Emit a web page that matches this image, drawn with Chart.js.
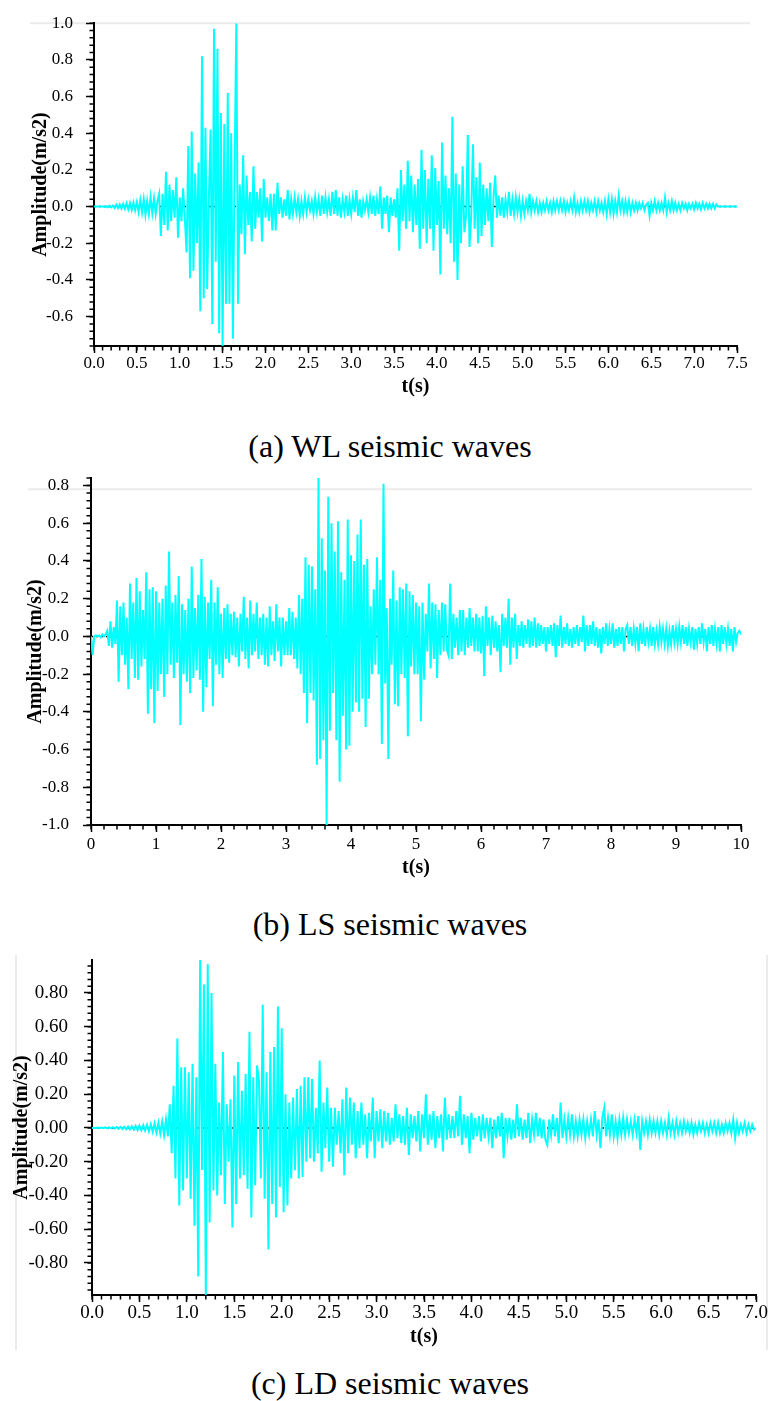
<!DOCTYPE html>
<html>
<head>
<meta charset="utf-8">
<script src="https://cdn.jsdelivr.net/npm/chart.js@4.4.0/dist/chart.umd.min.js"></script>
<style>
  body { margin: 0; background: #fff; }
  #page { position: relative; width: 768px; height: 1401px; background: #fff; overflow: hidden; }
  canvas { position: absolute; left: 0; }
  .caption {
    position: absolute; left: 0; width: 780px; text-align: center;
    font-family: "Liberation Serif", "Times New Roman", serif;
    font-size: 32px; line-height: 36px; color: #000;
  }
</style>
</head>
<body>
<div id="page">
  <canvas id="chartWL" width="768" height="400" style="top:0px"></canvas>
  <div class="caption" style="top:428px">(a) WL seismic waves</div>
  <canvas id="chartLS" width="768" height="450" style="top:440px"></canvas>
  <div class="caption" style="top:906px">(b) LS seismic waves</div>
  <canvas id="chartLD" width="768" height="420" style="top:930px"></canvas>
  <div class="caption" style="top:1365px">(c) LD seismic waves</div>
</div>

<script>
// --- data (amplitude in m/s2, one value per time step) ---

// WL: 0 .. 7.5 s, every 0.02 s
const wlStep = 0.02;
const wlValues = [
  0, 0, 0, 0, 0, 0.002, -0.002, 0.003, -0.003, 0.004,
  -0.004, 0.006, -0.008, 0.01, -0.008, 0.012, -0.01, 0.015, -0.012, 0.018,
  -0.015, 0.02, -0.018, 0.022, -0.02, 0.025, -0.03, 0.035, -0.03, 0.04,
  -0.045, 0.03, -0.04, 0.05, -0.035, 0.045, -0.04, 0.03, 0.07, -0.16,
  0.07, -0.10, 0.19, -0.13, 0.12, -0.08, 0.09, -0.06, 0.16, -0.17,
  0.05, -0.08, 0.10, -0.07, -0.25, 0.33, -0.39, 0.41, -0.35, 0.18,
  -0.20, 0.24, -0.57, 0.82, -0.50, 0.43, -0.45, 0.05, 0.42, -0.64,
  0.97, -0.30, 0.86, -0.69, 0.51, -0.76, 0.45, -0.53, 0.62, -0.53,
  0.40, -0.72, 0.20, 1.00, -0.53, 0.12, -0.15, 0.28, -0.26, 0.17,
  -0.10, 0.08, -0.19, 0.22, -0.12, 0.08, -0.06, 0.10, -0.19, 0.15,
  -0.06, 0.05, -0.08, 0.07, -0.13, 0.07, -0.13, 0.13, -0.04, 0.05,
  -0.06, 0.04, -0.05, 0.09, -0.07, 0.04, -0.04, 0.05, -0.03, 0.04,
  -0.05, 0.03, -0.04, 0.05, -0.03, 0.04, -0.02, 0.03, -0.04, 0.05,
  -0.03, 0.04, -0.05, 0.06, -0.04, 0.05, -0.03, 0.04, -0.05, 0.08,
  -0.04, 0.09, -0.05, 0.05, -0.06, 0.04, -0.03, 0.06, -0.05, 0.04,
  -0.04, 0.05, -0.03, 0.09, -0.05, 0.04, -0.06, 0.03, -0.02, 0.04,
  -0.03, 0.05, -0.04, 0.06, -0.05, 0.04, -0.04, 0.11, -0.12, 0.05,
  -0.04, 0.06, -0.14, 0.05, -0.05, 0.04, -0.06, 0.10, -0.24, 0.20,
  -0.08, 0.12, -0.12, 0.25, -0.08, 0.17, -0.14, 0.12, -0.10, 0.15,
  -0.23, 0.31, -0.12, 0.20, -0.20, 0.15, -0.12, 0.28, -0.24, 0.21,
  -0.10, 0.14, -0.37, 0.35, -0.12, 0.17, -0.15, 0.10, -0.20, 0.49,
  -0.30, 0.18, -0.40, 0.12, -0.20, 0.22, -0.14, -0.05, 0.39, -0.22,
  -0.05, 0.34, -0.12, 0.16, -0.20, 0.24, -0.16, 0.12, -0.10, 0.10,
  -0.08, 0.13, -0.22, 0.05, 0.17, -0.06, 0.06, -0.05, 0.05, -0.06,
  0.04, -0.03, 0.08, -0.05, 0.04, -0.04, 0.05, -0.03, 0.04, -0.05,
  0.03, -0.04, 0.03, -0.02, 0.07, -0.03, 0.03, -0.02, 0.03, -0.03,
  0.02, -0.03, 0.02, -0.02, 0.03, -0.02, 0.02, -0.03, 0.03, -0.02,
  0.03, -0.02, 0.03, -0.02, 0.03, -0.03, 0.02, -0.02, 0.03, -0.02,
  0.05, -0.03, 0.02, -0.03, 0.03, -0.02, 0.03, -0.02, 0.03, -0.03,
  0.02, -0.02, 0.03, -0.03, 0.03, -0.02, 0.02, -0.03, 0.03, -0.04,
  0.04, -0.03, 0.04, -0.04, 0.03, -0.03, 0.06, -0.02, 0.03, -0.03,
  0.03, -0.03, 0.03, -0.03, 0.02, -0.02, 0.02, -0.02, 0.02, -0.01,
  0.02, -0.02, 0.01, 0.02, -0.05, 0.02, -0.02, 0.03, -0.02, 0.02,
  -0.02, 0.02, -0.02, 0.05, -0.03, 0.02, -0.02, 0.03, -0.02, 0.02,
  -0.02, 0.015, -0.02, 0.02, -0.01, 0.015, -0.02, 0.015, -0.01, 0.015,
  -0.015, 0.02, -0.01, 0.015, -0.015, 0.02, -0.01, 0.015, -0.01, 0.015,
  -0.01, 0.015, -0.01, 0.012, 0, 0, 0, 0, 0, 0,
  0, 0, 0, 0, 0, 0
];

// LS: 0 .. 10 s, every 0.025 s
const lsStep = 0.025;
const lsValues = [
  0, -0.10, 0.0, 0.005, 0.0, 0.005, -0.005, 0.01, 0.0, 0.01,
  0.03, -0.05, 0.08, -0.06, 0.05, -0.04, 0.19, -0.24, 0.16, -0.10,
  0.18, -0.15, 0.10, -0.28, 0.28, -0.12, 0.18, -0.22, 0.31, -0.23,
  0.24, -0.16, 0.14, -0.12, 0.34, -0.41, 0.25, -0.28, 0.26, -0.46,
  0.24, -0.29, 0.18, -0.20, 0.20, -0.32, 0.27, -0.20, 0.45, -0.15,
  0.18, -0.22, 0.22, -0.14, 0.32, -0.47, 0.17, -0.20, 0.14, -0.24,
  0.20, -0.30, 0.37, -0.22, 0.15, -0.18, 0.22, -0.23, 0.41, -0.40,
  0.21, -0.27, 0.18, -0.12, 0.30, -0.37, 0.18, -0.15, 0.26, -0.20,
  0.12, -0.22, 0.15, -0.12, 0.17, -0.14, 0.12, -0.10, 0.13, -0.11,
  0.10, -0.16, 0.12, -0.08, 0.21, -0.12, 0.10, -0.17, 0.19, -0.10,
  0.12, -0.08, 0.18, -0.12, 0.10, -0.10, 0.12, -0.15, 0.10, -0.16,
  0.16, -0.10, 0.08, -0.13, 0.17, -0.08, 0.10, -0.16, 0.10, -0.10,
  0.08, -0.10, 0.15, -0.10, 0.13, -0.12, 0.10, -0.17, 0.22, -0.20,
  0.20, -0.30, 0.42, -0.46, 0.38, -0.30, 0.37, -0.34, 0.25, -0.68,
  0.84, -0.65, 0.52, -0.55, 0.35, -1.0, 0.74, -0.50, 0.60, -0.30,
  0.45, -0.55, 0.61, -0.77, 0.34, -0.42, 0.30, -0.60, 0.62, -0.58,
  0.43, -0.40, 0.40, -0.35, 0.54, -0.40, 0.62, -0.33, 0.38, -0.48,
  0.41, -0.33, 0.16, -0.20, 0.25, -0.15, 0.42, -0.20, 0.30, -0.57,
  0.81, -0.25, 0.15, -0.65, 0.20, -0.15, 0.35, -0.36, 0.19, -0.37,
  0.26, -0.20, 0.25, -0.22, 0.28, -0.53, 0.24, -0.16, 0.22, -0.20,
  0.18, -0.20, 0.16, -0.45, 0.18, -0.23, 0.12, -0.08, 0.28, -0.17,
  0.18, -0.12, 0.17, -0.22, 0.14, -0.10, 0.18, -0.08, 0.17, -0.07,
  -0.10, 0.28, -0.12, 0.12, -0.06, 0.10, -0.10, 0.14, -0.08, 0.14,
  -0.10, 0.10, -0.06, 0.15, -0.05, 0.10, -0.08, 0.12, -0.08, 0.10,
  -0.09, 0.11, -0.21, 0.16, -0.05, 0.10, -0.10, 0.11, -0.06, 0.08,
  -0.08, 0.06, -0.19, 0.12, -0.05, 0.10, -0.06, 0.20, -0.15, 0.10,
  -0.06, 0.12, -0.12, 0.06, -0.05, 0.08, -0.06, 0.06, -0.04, 0.09,
  -0.06, 0.08, -0.05, 0.10, -0.06, 0.07, -0.05, 0.06, -0.04, 0.05,
  -0.08, 0.05, -0.04, 0.06, -0.05, 0.07, -0.11, 0.06, -0.05, 0.11,
  -0.06, 0.05, -0.04, 0.07, -0.05, 0.04, -0.06, 0.05, -0.04, 0.06,
  -0.05, 0.05, -0.03, 0.11, -0.08, 0.06, -0.05, 0.06, -0.04, 0.08,
  -0.05, 0.05, -0.06, 0.04, -0.09, 0.05, -0.04, 0.07, -0.05, 0.04,
  -0.04, 0.07, -0.06, 0.04, -0.05, 0.05, -0.04, 0.05, -0.08, 0.04,
  0.06, -0.04, 0.05, -0.05, 0.04, -0.04, 0.05, -0.08, 0.07, -0.04,
  0.04, -0.05, 0.05, -0.03, 0.04, -0.05, 0.05, -0.04, 0.03, -0.04,
  0.05, -0.03, 0.04, -0.04, 0.04, -0.05, 0.03, -0.04, 0.06, -0.03,
  0.04, -0.04, 0.05, -0.03, 0.06, -0.04, 0.05, -0.05, 0.04, -0.03,
  0.05, -0.07, 0.04, -0.04, 0.05, -0.04, 0.07, -0.03, 0.04, -0.08,
  0.05, -0.04, 0.06, -0.05, 0.04, -0.04, 0.05, -0.08, 0.06, -0.04,
  0.05, -0.04, 0.04, -0.05, 0.04, -0.08, 0.05, -0.03, 0.02, 0.03,
  0.01
];

// LD: 0 .. 7 s, every 0.02 s
const ldStep = 0.02;
const ldValues = [
  0, 0.001, -0.001, 0.002, -0.002, 0.002, -0.002, 0.003, -0.003, 0.003,
  -0.003, 0.004, -0.004, 0.005, -0.005, 0.006, -0.006, 0.007, -0.008, 0.008,
  -0.009, 0.01, -0.01, 0.012, -0.012, 0.014, -0.014, 0.016, -0.016, 0.018,
  -0.02, 0.022, -0.024, 0.026, -0.028, 0.03, -0.033, 0.038, -0.042, 0.05,
  -0.05, 0.14, -0.15, 0.25, -0.30, 0.53, -0.46, 0.36, -0.37, 0.36,
  -0.30, 0.33, -0.42, 0.38, -0.58, 0.30, -0.88, 1.0, -0.25, 0.85,
  -0.99, 0.97, -0.56, 0.80, -0.37, 0.38, -0.40, 0.15, -0.28, 0.45,
  -0.45, 0.14, -0.20, 0.17, -0.59, 0.31, -0.45, 0.39, -0.30, 0.22,
  -0.28, 0.32, -0.36, 0.57, -0.53, 0.30, -0.34, 0.37, 0.28, -0.30,
  0.73, -0.42, 0.33, -0.72, 0.45, -0.45, 0.48, -0.53, 0.72, -0.35,
  0.59, -0.50, 0.20, -0.46, 0.15, -0.30, 0.18, -0.25, 0.23, -0.30,
  0.25, -0.29, 0.30, -0.20, 0.30, -0.18, 0.29, -0.20, 0.12, -0.15,
  0.40, -0.26, 0.15, -0.12, 0.24, -0.20, 0.12, -0.23, 0.12, -0.10,
  0.10, -0.15, 0.17, -0.28, 0.24, -0.15, 0.18, -0.10, 0.15, -0.18,
  0.10, -0.12, 0.15, -0.10, 0.08, -0.18, 0.09, -0.08, 0.18, -0.18,
  0.10, -0.08, 0.11, -0.12, 0.10, -0.08, 0.09, -0.10, 0.06, -0.08,
  0.14, -0.06, 0.08, -0.09, 0.07, -0.10, 0.12, -0.16, 0.08, -0.06,
  0.07, -0.08, 0.10, -0.14, 0.08, -0.06, 0.20, -0.10, 0.08, -0.07,
  0.10, -0.12, 0.07, -0.06, 0.08, -0.14, 0.18, -0.07, 0.08, -0.06,
  0.07, -0.06, 0.10, -0.05, 0.19, -0.10, 0.08, -0.06, 0.07, -0.15,
  0.09, -0.07, 0.06, -0.05, 0.07, -0.08, 0.08, -0.06, 0.06, -0.05,
  0.06, -0.12, 0.05, -0.06, 0.07, -0.05, 0.09, -0.18, 0.06, -0.05,
  0.06, -0.07, 0.05, -0.06, 0.14, -0.05, 0.06, -0.07, 0.05, -0.06,
  0.09, -0.09, 0.05, -0.04, 0.09, -0.05, 0.06, -0.06, 0.05, -0.07,
  -0.10, 0.05, -0.04, 0.08, -0.05, 0.06, -0.09, 0.15, -0.06, 0.05,
  -0.05, 0.06, -0.04, 0.08, -0.05, 0.04, -0.05, 0.05, -0.04, 0.05,
  -0.06, 0.04, -0.04, 0.05, -0.05, 0.10, -0.04, 0.05, -0.12, 0.06,
  0.12, -0.05, 0.06, -0.04, 0.08, -0.05, 0.04, -0.06, 0.05, -0.04,
  0.06, -0.04, 0.05, -0.03, 0.04, -0.04, 0.05, -0.03, 0.07, -0.13,
  0.04, -0.03, 0.04, -0.04, 0.05, -0.03, 0.04, -0.03, 0.04, -0.04,
  0.04, -0.03, 0.03, -0.04, 0.06, -0.03, 0.03, -0.04, 0.04, -0.03,
  0.03, -0.03, 0.04, -0.02, 0.03, -0.03, 0.03, -0.04, 0.02, -0.03,
  0.03, -0.02, 0.03, -0.03, 0.02, -0.03, 0.03, -0.02, 0.03, -0.03,
  0.03, -0.03, 0.02, -0.03, 0.03, -0.02, 0.03, -0.03, 0.05, -0.06,
  0.03, -0.03, 0.02, -0.02, 0.03, -0.03, 0.02, -0.02, 0.02, -0.01,
  0
];

const SERIF = "'Liberation Serif', 'Times New Roman', serif";

// zero line (dotted), minor ticks and the faint frame lines of the scan
const axisDecor = {
  id: "axisDecor",
  beforeDraw(chart, args, opts) {
    const { ctx, chartArea } = chart;
    ctx.save();
    ctx.strokeStyle = "#ebebeb";
    ctx.lineWidth = 2;
    ctx.beginPath();
    if (opts.topLine) {
      const py = chart.scales.y.getPixelForValue(opts.topLine.value);
      ctx.moveTo(chartArea.left - opts.topLine.extLeft, py);
      ctx.lineTo(chartArea.right + opts.topLine.extRight, py);
    }
    if (opts.sideLines) {
      const s = opts.sideLines;
      ctx.moveTo(chartArea.left - s.extLeft, chartArea.top - 5);
      ctx.lineTo(chartArea.left - s.extLeft, chart.height);
      ctx.moveTo(chartArea.right + s.extRight, chartArea.top - 5);
      ctx.lineTo(chartArea.right + s.extRight, chart.height);
    }
    ctx.stroke();
    ctx.restore();
  },
  beforeDatasetsDraw(chart) {
    const { ctx, chartArea } = chart;
    const y0 = chart.scales.y.getPixelForValue(0);
    ctx.save();
    ctx.strokeStyle = "#000";
    ctx.lineWidth = 1.5;
    ctx.setLineDash([2, 3]);
    ctx.beginPath();
    ctx.moveTo(chartArea.left, y0);
    ctx.lineTo(chartArea.right, y0);
    ctx.stroke();
    ctx.restore();
  },
  afterDraw(chart, args, opts) {
    const { ctx } = chart;
    const { x, y } = chart.scales;
    ctx.save();
    ctx.strokeStyle = "#000";
    ctx.lineWidth = 1.5;
    ctx.beginPath();
    const nx = Math.round((x.max - x.min) / opts.minorX);
    for (let i = 0; i <= nx; i++) {
      const px = x.getPixelForValue(x.min + i * opts.minorX);
      ctx.moveTo(px, x.top);
      ctx.lineTo(px, x.top + opts.minorLen);
    }
    const first = Math.ceil(y.min / opts.minorY - 1e-6);
    const last = Math.floor(y.max / opts.minorY + 1e-6);
    for (let k = first; k <= last; k++) {
      const py = y.getPixelForValue(k * opts.minorY);
      ctx.moveTo(y.right, py);
      ctx.lineTo(y.right - opts.minorLen, py);
    }
    ctx.stroke();
    ctx.restore();
  },
};

function makeWaveChart(id, step, values, cfg) {
  const points = values.map((v, i) => ({ x: +(i * step).toFixed(3), y: v }));
  const tickFont = { family: SERIF, size: cfg.fontSize };
  const titleFont = { family: SERIF, size: 20, weight: "bold" };

  return new Chart(document.getElementById(id), {
    type: "line",
    data: {
      datasets: [
        {
          data: points,
          borderColor: "#00ffff",
          borderWidth: 2,
          pointRadius: 0,
          tension: 0,
          fill: false,
        },
      ],
    },
    options: {
      responsive: false,
      animation: false,
      devicePixelRatio: 1,
      layout: { padding: cfg.padding },
      plugins: {
        legend: { display: false },
        tooltip: { enabled: false },
        axisDecor: cfg.decor,
      },
      scales: {
        x: {
          type: "linear",
          min: cfg.xMin,
          max: cfg.xMax,
          border: { display: true, color: "#000", width: 2 },
          grid: { drawOnChartArea: false, drawTicks: true, tickLength: 7, tickColor: "#000", tickWidth: 1.5 },
          ticks: {
            stepSize: cfg.xStep,
            autoSkip: false,
            maxRotation: 0,
            padding: cfg.xTickPad,
            color: "#000",
            font: tickFont,
            callback: (v) => v.toFixed(cfg.xDigits),
          },
          title: { display: true, text: "t(s)", color: "#000", font: titleFont, padding: { top: 0, bottom: cfg.xTitlePad } },
          afterFit: (scale) => { scale.height = cfg.xHeight; },
        },
        y: {
          min: cfg.yMin,
          max: cfg.yMax,
          border: { display: true, color: "#000", width: 2 },
          grid: { drawOnChartArea: false, drawTicks: true, tickLength: 8, tickColor: "#000", tickWidth: 1.5 },
          ticks: {
            stepSize: 0.2,
            includeBounds: false,
            padding: cfg.yTickPad,
            color: "#000",
            font: tickFont,
            callback: (v) => v.toFixed(cfg.yDigits),
          },
          title: { display: true, text: "Amplitude(m/s2)", color: "#000", font: titleFont, padding: { top: cfg.yTitlePad, bottom: 0 } },
          afterFit: (scale) => { scale.width = cfg.yWidth; },
        },
      },
    },
    plugins: [axisDecor],
  });
}

// (a) WL
makeWaveChart("chartWL", wlStep, wlValues, {
  padding: { top: 19, right: 31, bottom: 0, left: 0 },
  yWidth: 94, xHeight: 54,
  xMin: 0, xMax: 7.5, xStep: 0.5, xDigits: 1,
  yMin: -0.76, yMax: 1.0, yDigits: 1,
  fontSize: 17, xTickPad: 0, yTickPad: 13, xTitlePad: 1, yTitlePad: 29,
  decor: { minorX: 0.1, minorY: 0.04, minorLen: 4.5, topLine: { value: 1.0, extLeft: 64, extRight: 13 } },
});

// (b) LS
makeWaveChart("chartLS", lsStep, lsValues, {
  padding: { top: 38, right: 27, bottom: 0, left: 0 },
  yWidth: 91, xHeight: 65,
  xMin: 0, xMax: 10, xStep: 1, xDigits: 0,
  yMin: -1.0, yMax: 0.84, yDigits: 1,
  fontSize: 17, xTickPad: 2, yTickPad: 14, xTitlePad: 10, yTitlePad: 24,
  decor: { minorX: 0.2, minorY: 0.04, minorLen: 4.5, topLine: { value: 0.78, extLeft: 63, extRight: 11 } },
});

// (c) LD
makeWaveChart("chartLD", ldStep, ldValues, {
  padding: { top: 30, right: 12, bottom: 0, left: 0 },
  yWidth: 92, xHeight: 55,
  xMin: 0, xMax: 7, xStep: 0.5, xDigits: 1,
  yMin: -0.99, yMax: 0.995, yDigits: 2,
  fontSize: 19, xTickPad: 0, yTickPad: 16, xTitlePad: 1, yTitlePad: 10,
  decor: { minorX: 0.1, minorY: 0.04, minorLen: 4.5, sideLines: { extLeft: 76, extRight: 11 } },
});
</script>
</body>
</html>
